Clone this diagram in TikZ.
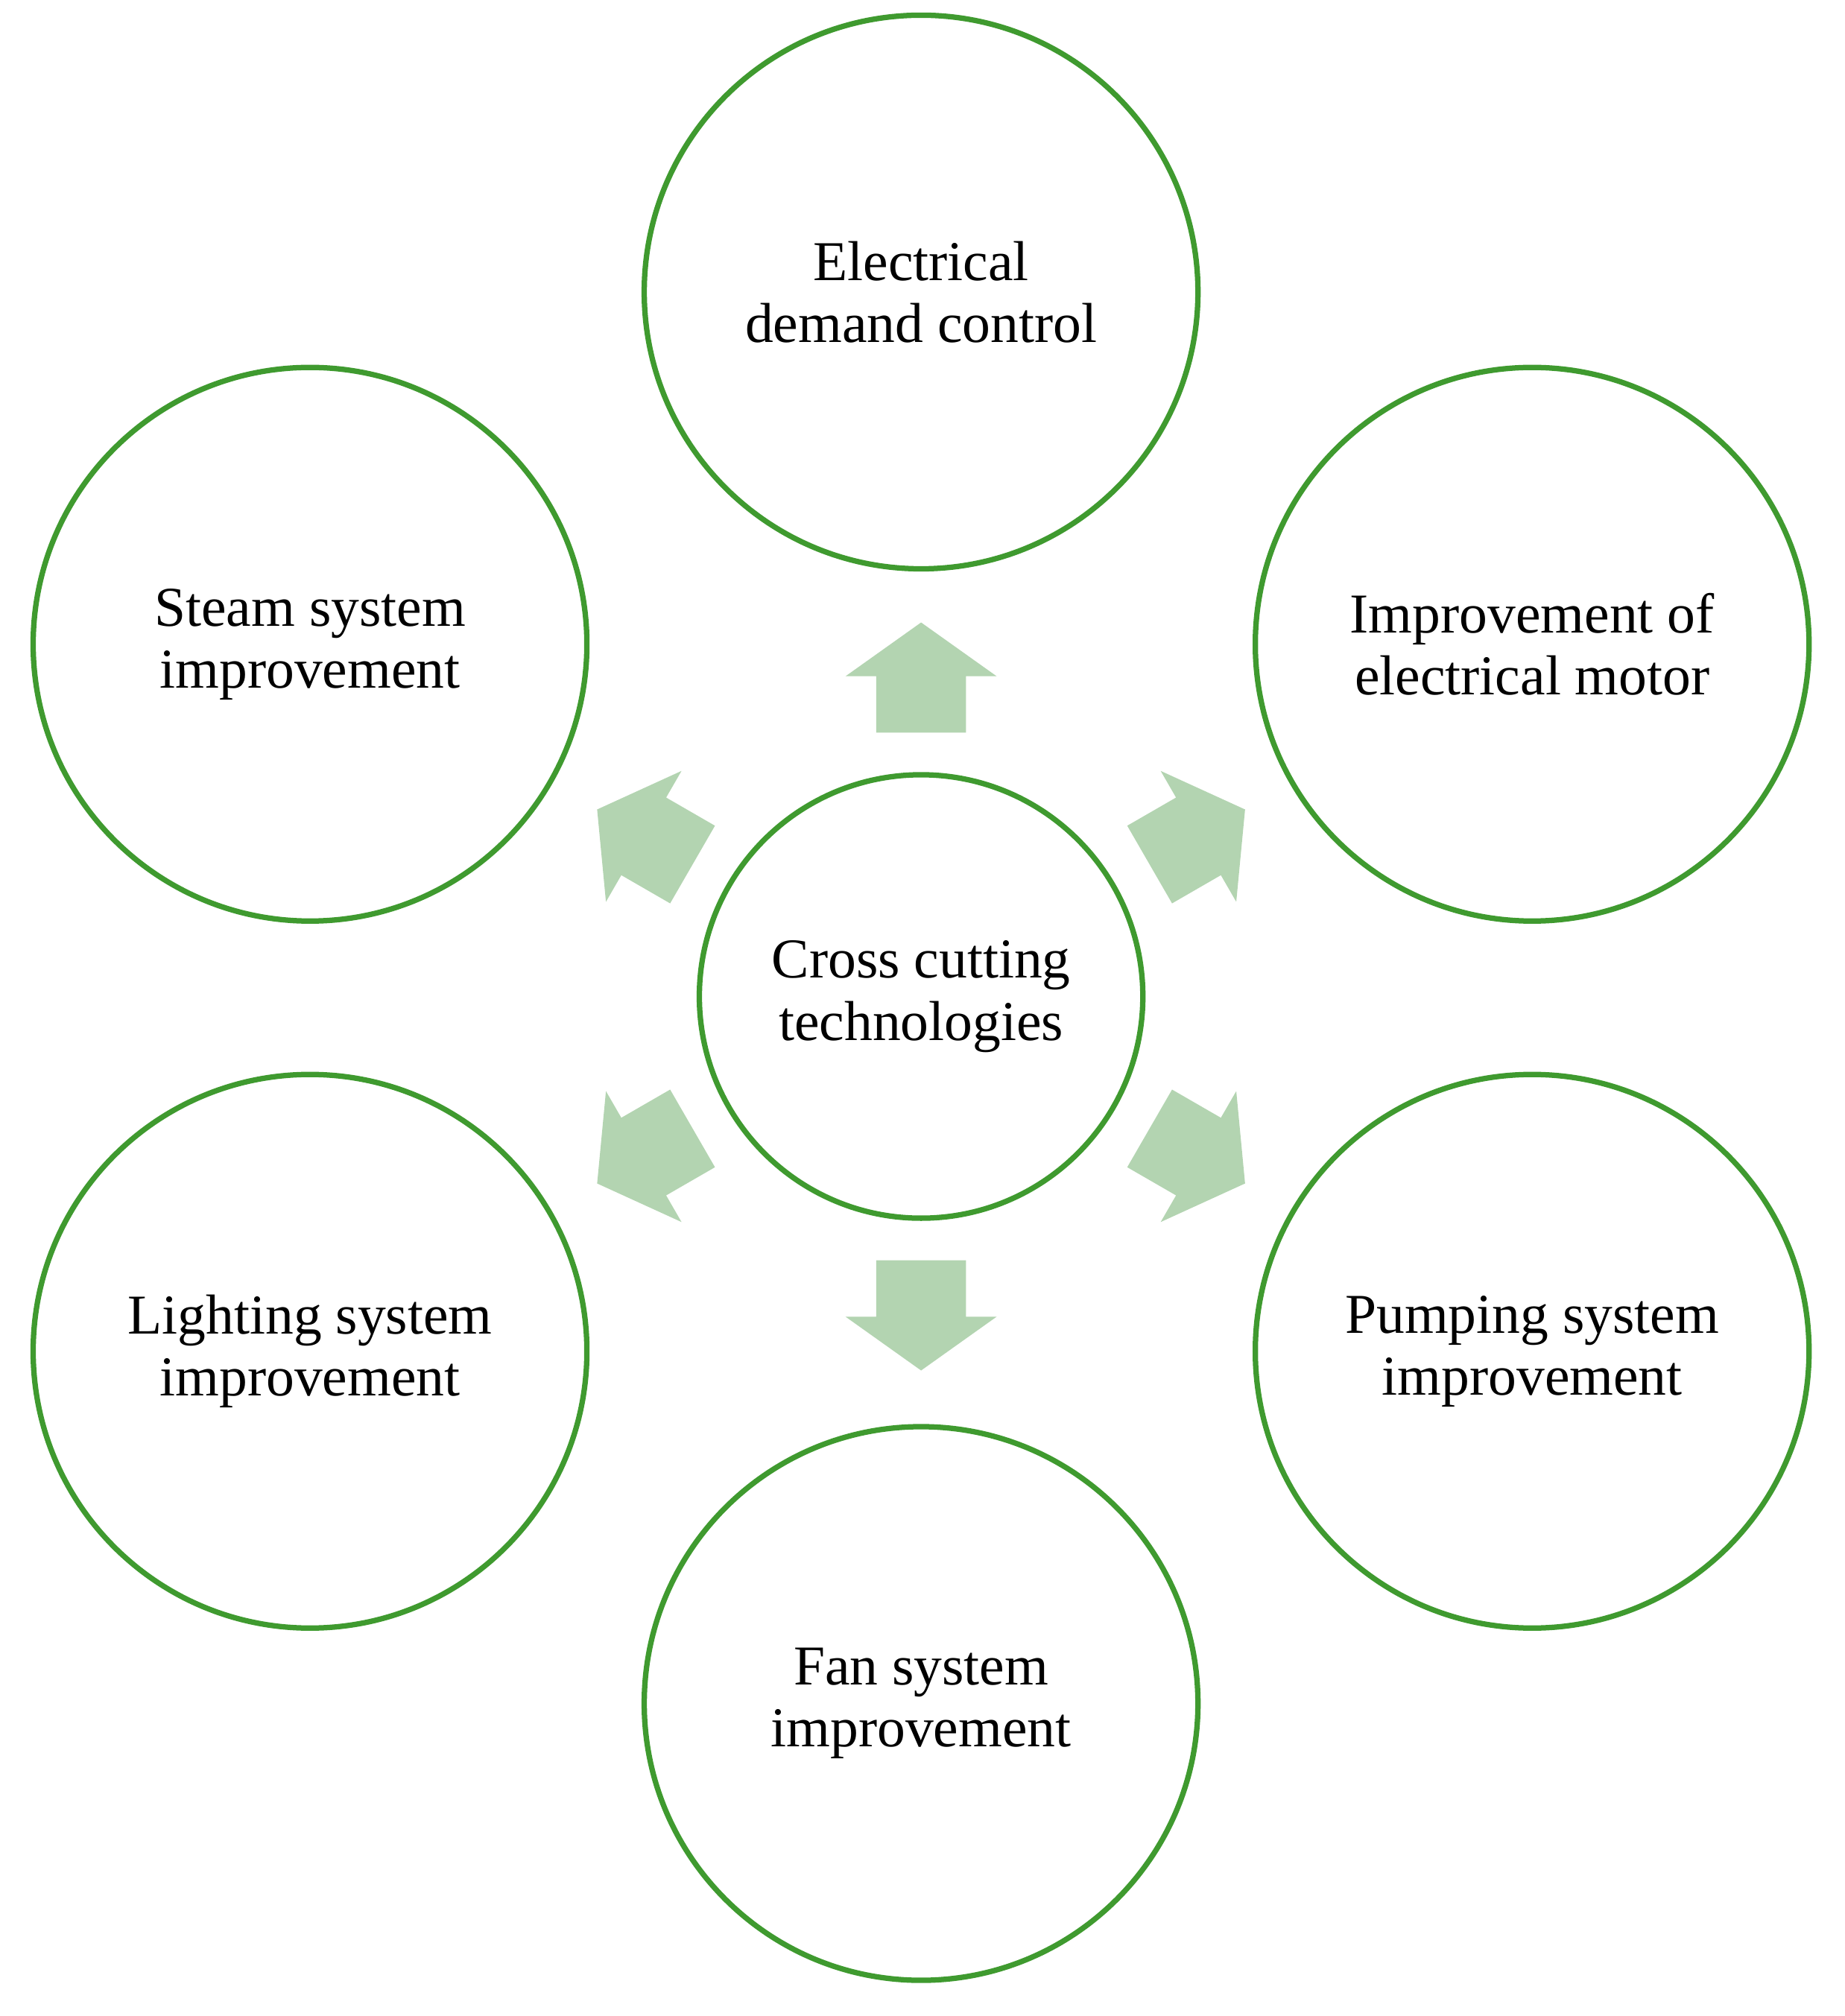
\documentclass[tikz,border=0pt]{standalone}
\usepackage{fontspec}
\setmainfont{Liberation Serif}
\begin{document}
\definecolor{cg}{HTML}{3F9A2F}
\definecolor{ag}{HTML}{B3D4B1}
\begin{tikzpicture}[x=0.01cm,y=-0.01cm,
  circ/.style={circle,draw=cg,line width=1.2pt,align=center,font=\fontsize{12.5}{13.8}\selectfont,inner sep=0pt},
  big/.style={circ,minimum size=4.32cm},
  arr/.style={fill=ag,draw=none}]
\useasboundingbox (0,0) rectangle (1440,1574);
\node[circ,minimum size=3.46cm] (c) at (719,778) {Cross cutting\\technologies};
\node[big] (t) at (719,228) {Electrical\\demand control};
\node[big] (ur) at (1196,503) {Improvement of\\electrical motor};
\node[big] (lr) at (1196,1055) {Pumping system\\improvement};
\node[big] (b) at (719,1330) {Fan system\\improvement};
\node[big] (ll) at (242,1055) {Lighting system\\improvement};
\node[big] (ul) at (242,503) {Steam system\\improvement};
\foreach \a in {90,30,-30,-90,-150,150}{
  \fill[arr,shift={(c.center)},rotate=-\a]
    (206,-35) -- (250,-35) -- (250,-59) -- (292,0) -- (250,59) -- (250,35) -- (206,35) -- cycle;
}
\end{tikzpicture}
\end{document}
